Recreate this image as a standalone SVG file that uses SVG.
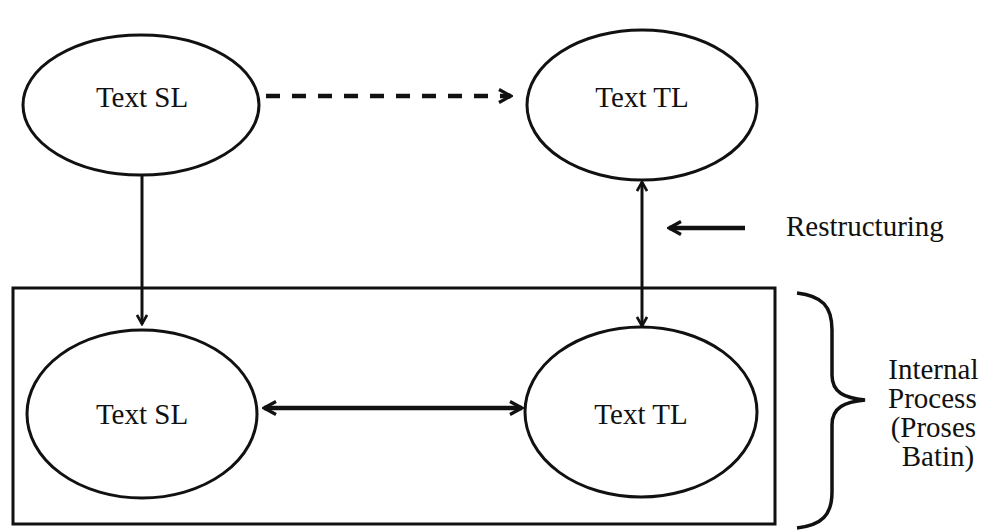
<svg xmlns="http://www.w3.org/2000/svg" width="990" height="532" viewBox="0 0 990 532">
  <style>
    .node ellipse { fill: none; stroke: #111; stroke-width: 3; }
    .label { font-family: "Liberation Serif", "Times New Roman", serif; font-size: 29px; fill: #111; }
    .conn { fill: none; stroke: #111; stroke-width: 3; }
    .thick { stroke-width: 4.5; }
  </style>
  <defs>
    <marker id="open" viewBox="0 0 12 12" refX="10" refY="6" markerWidth="12" markerHeight="12" markerUnits="userSpaceOnUse" orient="auto-start-reverse">
      <path d="M1,1 L10,6 L1,11" fill="none" stroke="#111" stroke-width="2.6"/>
    </marker>
    <marker id="openBig" viewBox="0 0 16 16" refX="14" refY="8" markerWidth="16" markerHeight="16" markerUnits="userSpaceOnUse" orient="auto-start-reverse">
      <path d="M2,1.5 L14,8 L2,14.5" fill="none" stroke="#111" stroke-width="3.2"/>
    </marker>
  </defs>
  <rect width="990" height="532" fill="#fff"/>

  <!-- enclosing box for the internal process -->
  <rect x="13" y="288" width="762" height="236" fill="none" stroke="#111" stroke-width="3"/>

  <g id="sl-top" class="node">
    <ellipse cx="141" cy="105" rx="118" ry="70"/>
    <text class="label" x="142" y="107" text-anchor="middle">Text SL</text>
  </g>
  <g id="tl-top" class="node">
    <ellipse cx="642" cy="105" rx="115" ry="75"/>
    <text class="label" x="642" y="107" text-anchor="middle">Text TL</text>
  </g>
  <g id="sl-bottom" class="node">
    <ellipse cx="142" cy="414" rx="115" ry="84"/>
    <text class="label" x="142" y="424" text-anchor="middle">Text SL</text>
  </g>
  <g id="tl-bottom" class="node">
    <ellipse cx="641" cy="412" rx="116" ry="85"/>
    <text class="label" x="641" y="424" text-anchor="middle">Text TL</text>
  </g>

  <g id="connectors">
    <line class="conn thick" x1="266" y1="96" x2="511" y2="96" stroke-dasharray="14 12" marker-end="url(#openBig)"/>
    <line class="conn" x1="142" y1="175" x2="142" y2="324" marker-end="url(#open)"/>
    <line class="conn" x1="642" y1="182" x2="642" y2="326" marker-start="url(#open)" marker-end="url(#open)"/>
    <line class="conn thick" x1="264" y1="408" x2="522" y2="408" marker-start="url(#openBig)" marker-end="url(#openBig)"/>
    <line class="conn thick" x1="745" y1="228" x2="669" y2="228" marker-end="url(#openBig)"/>
  </g>

  <g id="restructuring">
    <text class="label" x="786" y="236">Restructuring</text>
  </g>

  <g id="internal-process">
    <path d="M797,293 C822,296 832,306 832,330 L832,375 C832,393 845,398 865,400 C845,402 832,407 832,425 L832,492 C832,515 822,525 797,528" fill="none" stroke="#111" stroke-width="3.5"/>
    <text class="label" text-anchor="middle">
      <tspan x="937" y="379">Internal</tspan>
      <tspan x="936" y="408">Process</tspan>
      <tspan x="937" y="437">(Proses</tspan>
      <tspan x="938" y="466">Batin)</tspan>
    </text>
  </g>
</svg>
